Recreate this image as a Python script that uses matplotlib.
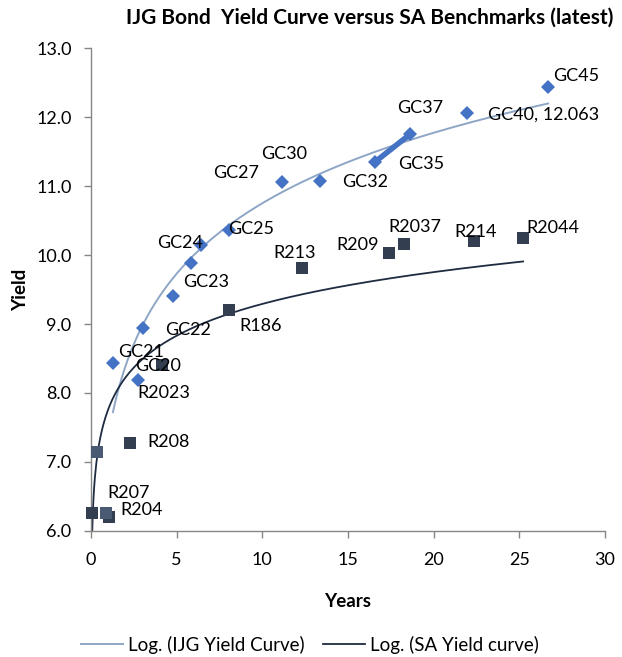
import numpy as np
import matplotlib
matplotlib.use("Agg")
import matplotlib.pyplot as plt
from matplotlib.lines import Line2D

plt.rcParams['font.family'] = ['Lato', 'DejaVu Sans']

# IJG bonds (years to maturity, yield)
gc_names = ["GC20", "GC21", "GC22", "GC23", "GC24", "GC25", "GC27", "GC30",
            "GC32", "GC35", "GC37", "GC40, 12.063", "GC45"]
gc_years = [1.28, 2.74, 3.04, 4.79, 5.84, 6.42, 8.06, 11.15, 13.37, 16.58, 18.62, 21.95, 26.68]
gc_yield = [8.43, 8.19, 8.94, 9.41, 9.88, 10.14, 10.36, 11.06, 11.07, 11.35, 11.75, 12.063, 12.43]

# SA benchmarks
sa_names = ["R204", "R207", "R208", "R2023", "R186", "R213", "R209", "R2037", "R214", "R2044"]
sa_years = [0.06, 1.05, 2.28, 4.14, 8.06, 12.32, 17.40, 18.27, 22.36, 25.22]
sa_yield = [6.26, 6.20, 7.28, 8.41, 9.20, 9.81, 10.03, 10.16, 10.20, 10.25]

# unlabeled short-dated SA points
sa_extra_years = [0.88, 0.35]
sa_extra_yield = [6.26, 7.14]

# log trendline of SA curve: y = a + b*ln(x)
sa_trend_a = 7.76
sa_trend_b = 0.665

# label offsets (pixels)
gc_off = [(22, -3), (-20, 28), (22, -2), (10, 14), (-34, 20), (27, 16), (-16, 57),
          (-21, 28), (22, -1), (23, -2), (-13, 26), (21, -2), (5, 11)]
sa_off = [(28, 3), (-2, 24), (17, 1), (-25, -28), (10, -16), (-29, 15), (-53, 8),
          (-16, 17), (-20, 9), (3, 10)]

c_gc = "#4472C4"
c_sa = "#333F50"
c_sa2 = "#4A5A72"
c_gc_trend = "#8EA6C6"
c_sa_trend = "#1F2B40"

FS = 13

fig = plt.figure(figsize=(6.22, 6.57), dpi=100)
ax = fig.add_axes([0.1463, 0.1918, 0.9727 - 0.1463, 0.9269 - 0.1918])

# trendlines
gx = np.array(gc_years)
b, a = np.polyfit(np.log(gx), np.array(gc_yield), 1)
xs = np.linspace(gx.min(), gx.max(), 300)
ax.plot(xs, a + b * np.log(xs), color=c_gc_trend, lw=1.4, zorder=2)

sx = np.array(sa_years + sa_extra_years)
xs2 = np.linspace(sx.min(), sx.max(), 600)
ax.plot(xs2, sa_trend_a + sa_trend_b * np.log(xs2), color=c_sa_trend, lw=1.3, zorder=2)

# GC35-GC37 connecting segment
ax.plot(gc_years[9:11], gc_yield[9:11], color=c_gc, lw=4, zorder=3, solid_capstyle='butt')

ax.plot(gc_years, gc_yield, 'D', color=c_gc, ms=7, mew=0, zorder=4, clip_on=False)
ax.plot(sa_years, sa_yield, 's', color=c_sa, ms=8.5, mew=0, zorder=4, clip_on=False)
ax.plot(sa_extra_years, sa_extra_yield, 's', color=c_sa2, ms=8.5, mew=0, zorder=4, clip_on=False)

for n, x, y, o in zip(gc_names, gc_years, gc_yield, gc_off):
    ax.annotate(n, (x, y), xytext=o, textcoords='offset pixels', ha='left', va='center',
                fontsize=FS, color='black', zorder=5)
for n, x, y, o in zip(sa_names, sa_years, sa_yield, sa_off):
    ax.annotate(n, (x, y), xytext=o, textcoords='offset pixels', ha='left', va='center',
                fontsize=FS, color='black', zorder=5)

ax.set_xlim(0, 30)
ax.set_ylim(6, 13)
ax.set_xticks(np.arange(0, 31, 5))
ax.set_yticks(np.arange(6, 13.1, 1))
ax.set_yticklabels([f"{v:.1f}" for v in np.arange(6, 13.1, 1)])
for s in ['top', 'right']:
    ax.spines[s].set_visible(False)
for s in ['left', 'bottom']:
    ax.spines[s].set_color('#868686')
    ax.spines[s].set_linewidth(1)
ax.tick_params(axis='both', colors='#868686', labelcolor='black', labelsize=FS, length=5, width=1)
ax.tick_params(axis='x', pad=10)
ax.tick_params(axis='y', pad=9)

ax.set_xlabel("Years", fontsize=13.5, fontweight='bold', labelpad=18)
ax.set_ylabel("Yield", fontsize=13.5, fontweight='bold', labelpad=5)

fig.text(0.595, 1 - 18 / 657, "IJG Bond  Yield Curve versus SA Benchmarks (latest)",
         ha='center', va='center', fontsize=15, fontweight='bold')

handles = [Line2D([], [], color=c_gc_trend, lw=1.4), Line2D([], [], color=c_sa_trend, lw=1.3)]
fig.legend(handles, ["Log. (IJG Yield Curve)", "Log. (SA Yield curve)"], loc='center left',
           bbox_to_anchor=(81 / 622, 12 / 657), ncol=2, frameon=False, fontsize=13.5,
           handlelength=2.24, columnspacing=1.0, handletextpad=0.27, borderpad=0,
           borderaxespad=0)

fig.savefig("out.png", dpi=100)
